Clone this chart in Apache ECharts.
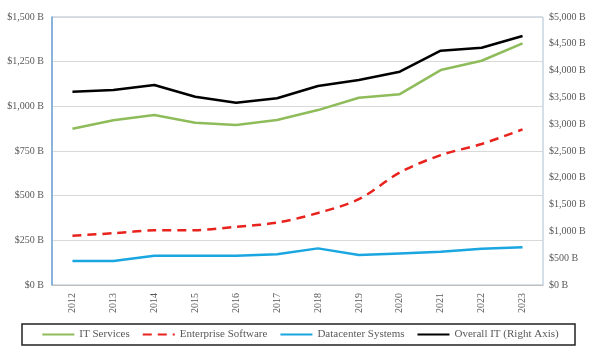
<!DOCTYPE html>
<html>
<head>
<meta charset="utf-8">
<script src="https://cdn.jsdelivr.net/npm/echarts@6/dist/echarts.min.js"></script>
<style>html,body{margin:0;padding:0;background:#fff}#main{width:600px;height:353px}</style>
</head>
<body>
<div id="main"></div>
<script>
// 数据
var years = ['2012','2013','2014','2015','2016','2017','2018','2019','2020','2021','2022','2023'];
var itServices = [875, 922, 951, 908, 896, 924, 979, 1048, 1068, 1203, 1255, 1352];
var enterpriseSoftware = [276, 290, 306, 307, 326, 349, 403, 480, 630, 727, 789, 871];
var datacenterSystems = [134, 134, 164, 164, 164, 172, 205, 168, 177, 186, 203, 211];
var overallIT = [3606, 3638, 3731, 3513, 3401, 3483, 3713, 3825, 3980, 4371, 4427, 4646];

var labelFont = 'Liberation Serif';
var myChart = echarts.init(document.getElementById('main'));
var option = {
    backgroundColor: '#fff',
    textStyle: { fontFamily: labelFont },
    grid: {
        left: 52, right: 57, top: 17, bottom: 68,
        show: true, borderColor: '#a9bfd3', borderWidth: 1
    },
    // 图例外框
    graphic: [{
        type: 'rect',
        shape: { x: 22, y: 324, width: 553, height: 21 },
        style: { fill: 'none', stroke: '#222', lineWidth: 1.5 }
    }],
    legend: {
        left: 'center', top: 329,
        padding: 0,
        itemGap: 12, itemWidth: 32, itemHeight: 8,
        itemStyle: { opacity: 0 },
        textStyle: { fontFamily: labelFont, fontSize: 11, color: '#595959' },
        data: ['IT Services', 'Enterprise Software', 'Datacenter Systems', 'Overall IT (Right Axis)']
    },
    xAxis: {
        type: 'category',
        data: years,
        axisLine: { lineStyle: { color: '#bfbfbf' } },
        axisTick: { show: false },
        axisLabel: { rotate: 90, fontSize: 10, color: '#595959', margin: 8 }
    },
    yAxis: [{
        type: 'value', min: 0, max: 1500, interval: 250,
        axisLine: { show: true, lineStyle: { color: '#6fa6d6', width: 1.5 } },
        axisTick: { show: false },
        splitLine: { lineStyle: { color: '#d9d9d9' } },
        axisLabel: {
            fontSize: 10, color: '#595959', margin: 8,
            formatter: function (v) { return '$' + v.toLocaleString('en-US') + ' B'; }
        }
    }, {
        type: 'value', min: 0, max: 5000, interval: 500, position: 'right',
        axisLine: { show: false },
        axisTick: { show: false },
        splitLine: { show: false },
        axisLabel: {
            fontSize: 10, color: '#595959', margin: 6,
            formatter: function (v) { return '$' + v.toLocaleString('en-US') + ' B'; }
        }
    }],
    series: [{
        name: 'IT Services', type: 'line', data: itServices, symbol: 'none',
        lineStyle: { color: '#8fbc5a', width: 2.5 }, itemStyle: { color: '#8fbc5a' }
    }, {
        name: 'Enterprise Software', type: 'line', data: enterpriseSoftware, symbol: 'none', smooth: 0.3,
        lineStyle: { color: '#e8221c', width: 2.5, type: [9, 6] }, itemStyle: { color: '#e8221c' }
    }, {
        name: 'Datacenter Systems', type: 'line', data: datacenterSystems, symbol: 'none',
        lineStyle: { color: '#1aa6e0', width: 2.5 }, itemStyle: { color: '#1aa6e0' }
    }, {
        name: 'Overall IT (Right Axis)', type: 'line', yAxisIndex: 1, data: overallIT, symbol: 'none',
        lineStyle: { color: '#000', width: 2.5 }, itemStyle: { color: '#000' }
    }]
};
myChart.setOption(option);
</script>
</body>
</html>
